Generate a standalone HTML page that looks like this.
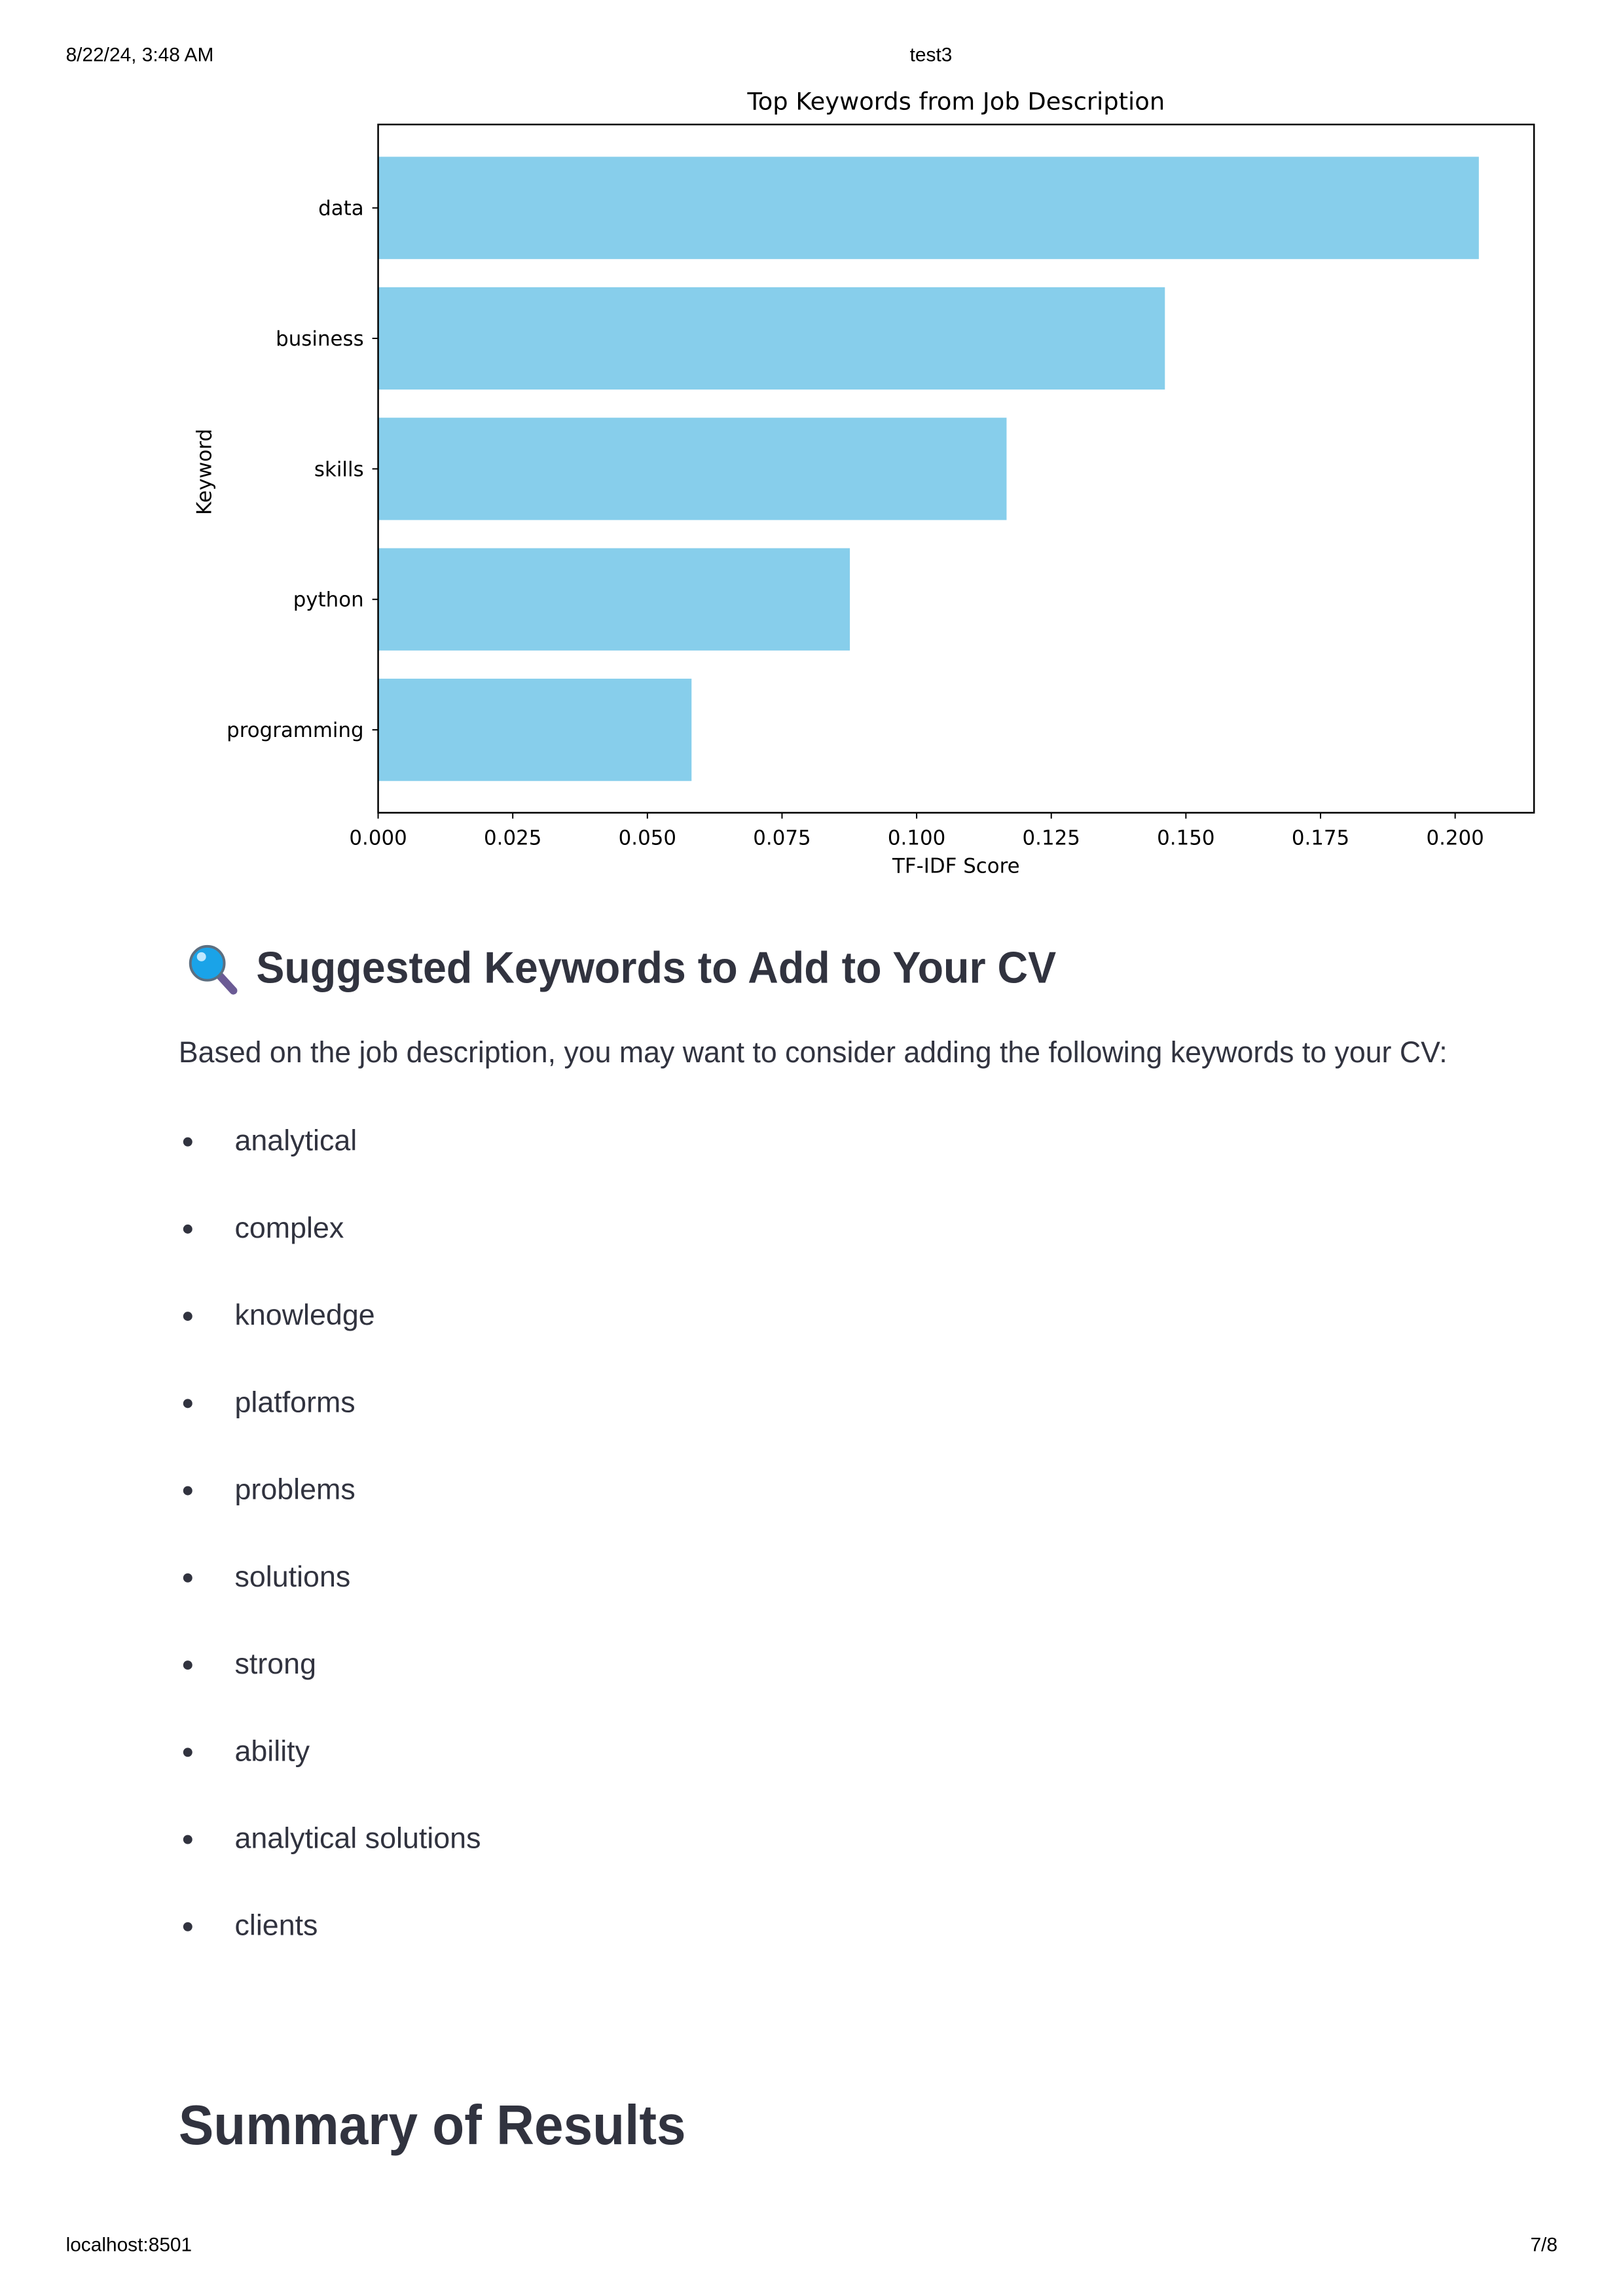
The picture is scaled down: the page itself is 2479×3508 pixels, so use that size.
<!DOCTYPE html>
<html><head><meta charset="utf-8"><style>
html,body{margin:0;padding:0;background:#fff}
svg{display:block}
</style></head><body>
<svg id="page" width="2479" height="3508" viewBox="0 0 2479 3508" xmlns="http://www.w3.org/2000/svg">
<g transform="scale(0.9958)">
<g font-family="Liberation Sans, Arial, sans-serif" font-size="30" fill="#000">
<text x="101" y="94">8/22/24, 3:48 AM</text>
<text x="1428" y="94" text-anchor="middle">test3</text>
<text x="101" y="3454">localhost:8501</text>
<text x="2389" y="3454" text-anchor="end">7/8</text>
</g>
<g id="chart" font-family="DejaVu Sans, sans-serif" fill="#000"></g>
<g font-family="Liberation Sans, sans-serif" fill="#31333F">
<g>
<line x1="338" y1="1498" x2="358" y2="1520" stroke="#6b5b95" stroke-width="12" stroke-linecap="round"/>
<circle cx="318" cy="1478" r="26" fill="#1aa3e8" stroke="#5d6f80" stroke-width="4"/>
<circle cx="309" cy="1468" r="7" fill="#bfe8ff"/>
</g>
<text x="393" y="1508" font-size="68" font-weight="bold" textLength="1227" lengthAdjust="spacingAndGlyphs">Suggested Keywords to Add to Your CV</text>
<text x="274" y="1630" font-size="46" textLength="1946" lengthAdjust="spacingAndGlyphs">Based on the job description, you may want to consider adding the following keywords to your CV:</text>
<g id="list"></g>
<text x="274" y="3290" font-size="86" font-weight="bold" textLength="778" lengthAdjust="spacingAndGlyphs">Summary of Results</text>
</g>
</g>
</svg>
<script>
const categories = ["data","business","skills","python","programming"];
const scores = [0.2044,0.1461,0.1167,0.0876,0.0582];
const xTicks = [0,0.025,0.05,0.075,0.1,0.125,0.15,0.175,0.2];
const xTickLabels = ["0.000","0.025","0.050","0.075","0.100","0.125","0.150","0.175","0.200"];
const keywords = ["analytical","complex","knowledge","platforms","problems","solutions","strong","ability","analytical solutions","clients"];

const NS="http://www.w3.org/2000/svg";
function mk(tag,attrs,parent){const e=document.createElementNS(NS,tag);for(const k in attrs)e.setAttribute(k,attrs[k]);parent.appendChild(e);return e;}
const chart=document.getElementById('chart');
const L=580,R=2353,T=191,B=1247;
const x=v=>L+(v/0.2)*(2232-L);
const yC=i=>319+i*200.2;
const bh=157;

const title=mk('text',{x:(L+R)/2,y:168,'font-size':37,'text-anchor':'middle'},chart);
title.textContent='Top Keywords from Job Description';



categories.forEach((c,i)=>{
  const r=mk('rect',{x:L,y:yC(i)-bh/2,width:x(scores[i])-L,height:bh,fill:'#87CEEB'},chart);
  
  
  mk('line',{x1:L-9,x2:L,y1:yC(i),y2:yC(i),stroke:'#000','stroke-width':2},chart);
  const t=mk('text',{x:L-22,y:yC(i)+11,'font-size':31,'text-anchor':'end'},chart);
  t.textContent=c;
  
  
});
const frame=mk('rect',{x:L,y:T,width:R-L,height:B-T,fill:'none',stroke:'#000','stroke-width':2.5},chart);


xTicks.forEach((v,i)=>{
  mk('line',{x1:x(v),x2:x(v),y1:B,y2:B+9,stroke:'#000','stroke-width':2},chart);
  const t=mk('text',{x:x(v),y:1296,'font-size':31,'text-anchor':'middle'},chart);
  t.textContent=xTickLabels[i];
  
  
});
const xl=mk('text',{x:(L+R)/2,y:1339,'font-size':31,'text-anchor':'middle'},chart);
xl.textContent='TF-IDF Score';


const yl=mk('text',{x:0,y:0,'font-size':31,'text-anchor':'middle',transform:'translate(324,724) rotate(-90)'},chart);
yl.textContent='Keyword';



const list=document.getElementById('list');
keywords.forEach((k,i)=>{
  const y=1750+i*133.8;
  const d=mk('circle',{cx:288,cy:y+2,r:7,fill:'#31333F'},list);
  
  
  const t=mk('text',{x:360,y:y+15,'font-size':45},list);
  t.textContent=k;
  
  
});
</script>
</body></html>
